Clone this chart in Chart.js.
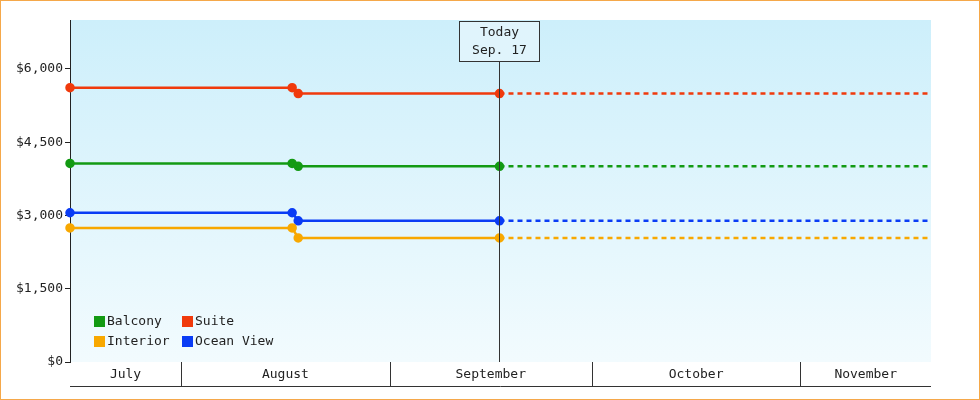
<!DOCTYPE html>
<html><head><meta charset="utf-8">
<script src="https://cdn.jsdelivr.net/npm/chart.js@4"></script>
<style>html,body{margin:0;padding:0;background:#fff}#w{width:978px;height:398px;border:1px solid #f5a84a}</style>
</head><body><div id="w"><canvas id="c" width="978" height="398"></canvas></div>
<script>
// days since July 1
const xMin = 14.5, xMax = 142.4, today = 78.3;
const pointDays = [14.5, 47.5, 48.4, 78.3];
const futureDays = [78.3, 142.4];
const seriesNames = ['Balcony', 'Suite', 'Interior', 'Ocean View'];
const seriesColors = ['#139a13', '#f03a0c', '#f8a800', '#0a3cf5'];
const balcony = [4065, 4065, 4005, 4005];
const suite = [5615, 5615, 5495, 5495];
const interior = [2745, 2745, 2540, 2540];
const oceanView = [3055, 3055, 2890, 2890];
const yTicks = [0, 1500, 3000, 4500, 6000];
const months = ['July', 'August', 'September', 'October', 'November'];
const monthStarts = [0, 31, 62, 92, 123, 153];
const todayLabel = ['Today', 'Sep. 17'];

const all = [balcony, suite, interior, oceanView];
const datasets = [];
all.forEach((v, i) => {
  datasets.push({label: seriesNames[i], data: pointDays.map((d, j) => ({x: d, y: v[j]})), clip: false,
    borderColor: seriesColors[i], backgroundColor: seriesColors[i], borderWidth: 2.5, pointRadius: 3.5, pointHoverRadius: 3.5});
  datasets.push({label: seriesNames[i] + ' future', data: futureDays.map(d => ({x: d, y: v[v.length - 1]})),
    borderColor: seriesColors[i], borderWidth: 2.5, borderDash: [5, 4], pointRadius: 0});
});
const F = '"DejaVu Sans Mono", monospace';
const deco = {
  id: 'deco',
  beforeDraw(ch) {
    const a = ch.chartArea, c = ch.ctx;
    const g = c.createLinearGradient(0, a.top, 0, a.bottom);
    g.addColorStop(0, '#cdeffb'); g.addColorStop(1, '#f2fbfe');
    c.fillStyle = g; c.fillRect(a.left, a.top, a.right - a.left, a.bottom - a.top);
  },
  afterDatasetsDraw(ch) {
    const a = ch.chartArea, c = ch.ctx, xs = ch.scales.x;
    c.save();
    const tx = Math.round(xs.getPixelForValue(today)) + 0.5;
    c.strokeStyle = '#333'; c.lineWidth = 1;
    c.beginPath(); c.moveTo(tx, 60); c.lineTo(tx, a.bottom); c.stroke();
    c.fillStyle = '#e0f4fc'; c.fillRect(tx - 40, 20.5, 80, 40);
    c.strokeRect(tx - 40, 20.5, 80, 40);
    c.fillStyle = '#222'; c.font = '13px ' + F; c.textAlign = 'center'; c.textBaseline = 'middle';
    c.fillText(todayLabel[0], tx, 32); c.fillText(todayLabel[1], tx, 50);
    const by = a.bottom + 24;
    c.beginPath(); c.moveTo(a.left, by + 0.5); c.lineTo(a.right, by + 0.5); c.stroke();
    for (let i = 0; i < months.length; i++) {
      const s = Math.max(monthStarts[i], xMin), e = Math.min(monthStarts[i + 1], xMax);
      const x1 = xs.getPixelForValue(s), x2 = xs.getPixelForValue(e);
      if (monthStarts[i] > xMin) { c.beginPath(); c.moveTo(Math.round(x1) + 0.5, a.bottom); c.lineTo(Math.round(x1) + 0.5, by); c.stroke(); }
      c.fillText(months[i], (x1 + x2) / 2, a.bottom + 13);
    }
    c.textAlign = 'left';
    const order = [[0, 0, 0], [1, 1, 0], [2, 0, 1], [3, 1, 1]];
    order.forEach(([i, col, row]) => {
      const lx = 93 + col * 88, ly = 320 + row * 20;
      c.fillStyle = seriesColors[i]; c.fillRect(lx, ly - 5, 11, 11);
      c.fillStyle = '#222'; c.fillText(seriesNames[i], lx + 13, ly + 1);
    });
    c.restore();
  }
};
new Chart(document.getElementById('c'), {
  type: 'line',
  data: {datasets},
  options: {
    responsive: false, animation: false,
    layout: {padding: {top: 19, right: 48, bottom: 37, left: 0}},
    plugins: {legend: {display: false}, tooltip: {enabled: false}},
    scales: {
      x: {type: 'linear', min: xMin, max: xMax, display: false},
      y: {min: 0, max: 7000, afterFit(s) { s.width = 69; }, afterBuildTicks(s) { s.ticks = yTicks.map(v => ({value: v})); },
        border: {color: '#222', width: 1}, grid: {drawOnChartArea: false, tickLength: 5, color: '#222'},
        ticks: {color: '#222', font: {family: F, size: 13}, padding: 2, callback: v => '$' + v.toLocaleString('en-US')}}
    }
  },
  plugins: [deco]
});
</script></body></html>
